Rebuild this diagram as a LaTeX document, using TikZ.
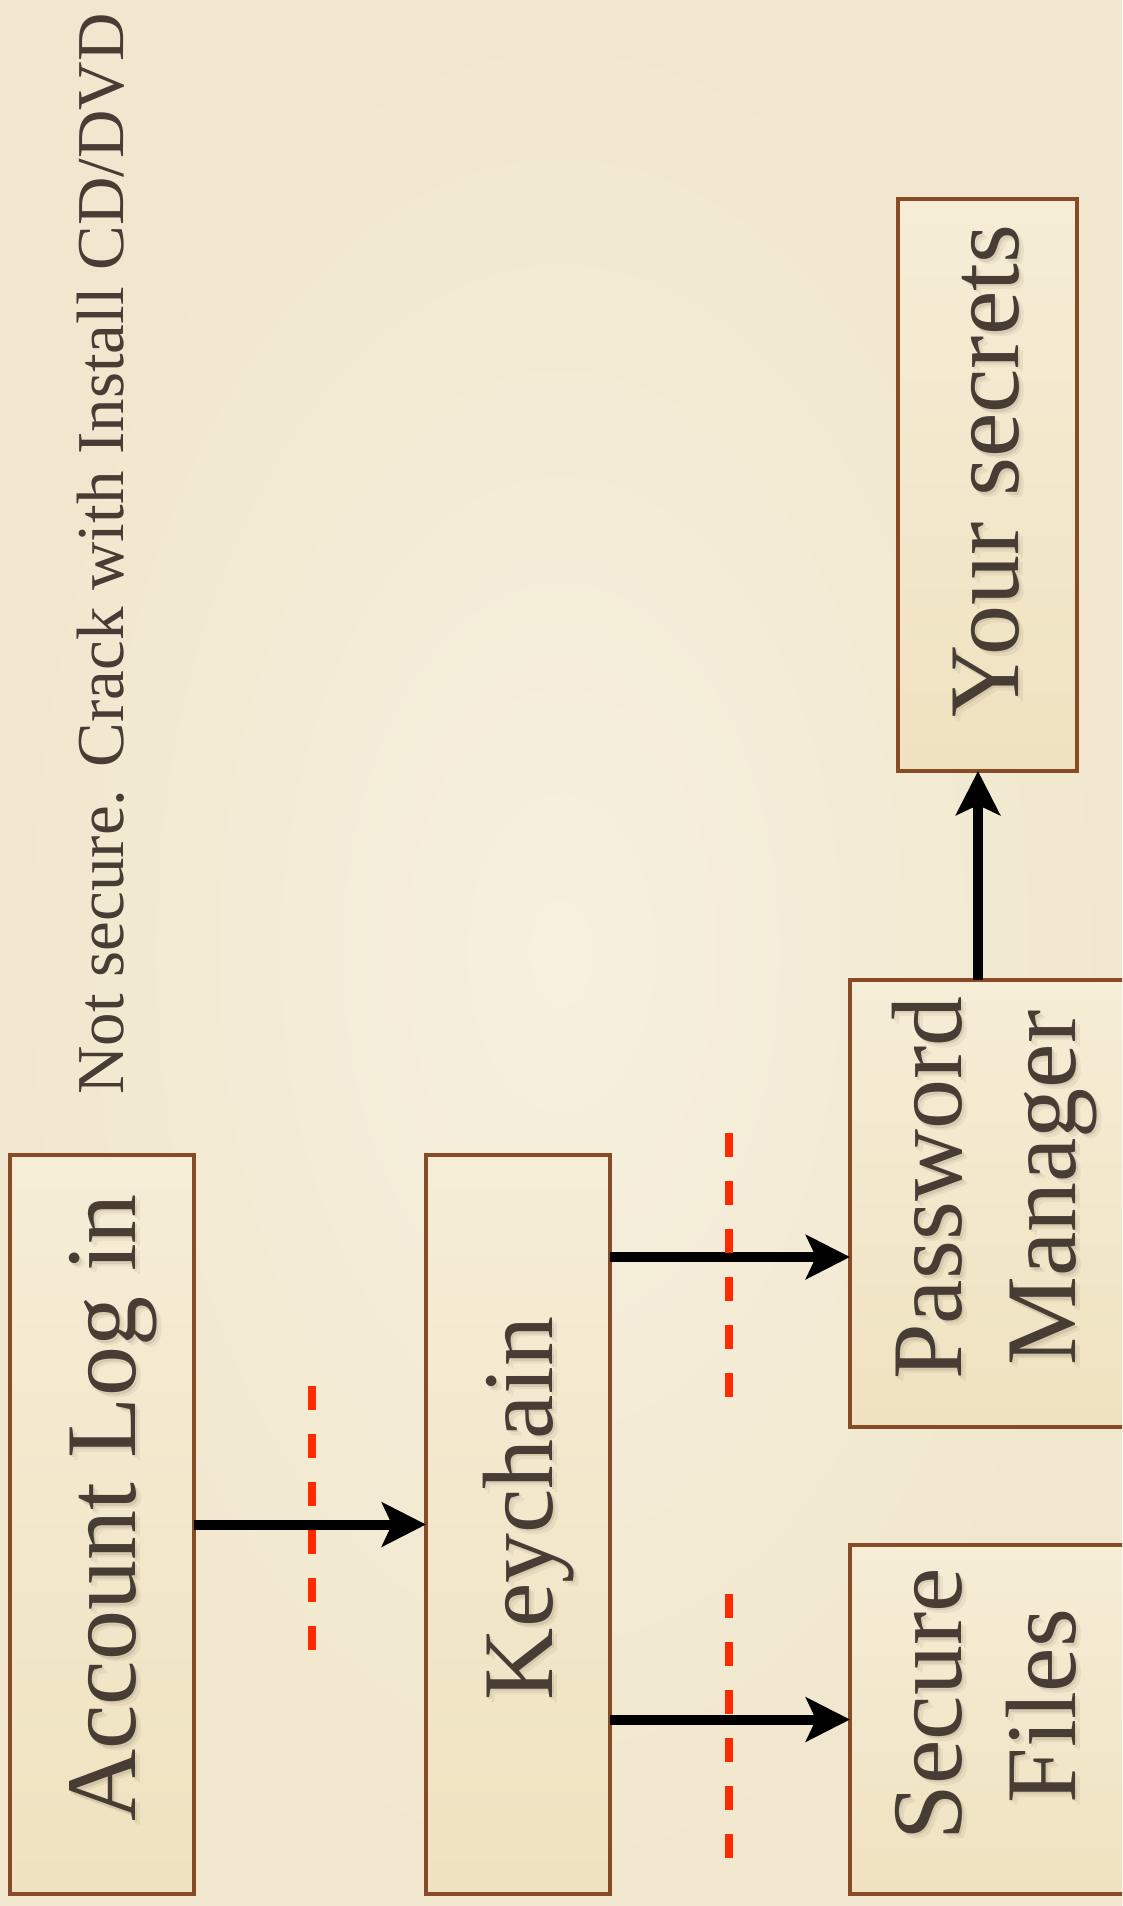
\documentclass[tikz,border=0pt]{standalone}
\usepackage{fontspec}
\setmainfont{Liberation Serif}
\usetikzlibrary{arrows.meta}
\definecolor{bgin}{RGB}{246,240,222}
\definecolor{bgout}{RGB}{241,231,206}
\definecolor{boxtop}{RGB}{245,237,214}
\definecolor{boxbot}{RGB}{239,226,192}
\definecolor{boxline}{RGB}{137,74,38}
\definecolor{ink}{RGB}{72,61,53}
\definecolor{shadowc}{RGB}{90,72,50}
\definecolor{cutred}{RGB}{255,42,0}
\tikzset{
  box/.style={rectangle, draw=boxline, line width=4.5pt, top color=boxtop, bottom color=boxbot, inner sep=0pt, outer sep=0pt},
  lbl/.style={rotate=90, anchor=base, inner sep=0pt, outer sep=0pt, text=ink, font=\fontsize{100}{114}\selectfont},
  shd/.style={lbl, text=shadowc, opacity=#1},
  note/.style={rotate=90, anchor=base, inner sep=0pt, text=ink, font=\fontsize{67}{80}\selectfont},
  arr/.style={line width=10pt, -{Stealth[length=44pt,width=44pt,inset=10pt]}},
  cut/.style={cutred, line width=8pt, dash pattern=on 24pt off 24pt},
}
\newcommand\shlabel[4]{%
  \node[shd=0.07] (#1s2) at (#2+5,#3+5) {#4};
  \node[shd=0.12] (#1s1) at (#2+2.5,#3+2.5) {#4};
  \node[lbl] (#1) at (#2,#3) {#4};}
\begin{document}
\begin{tikzpicture}[x=1pt,y=-1pt]
\clip (0,0) rectangle (1122,1906);
\shade[inner color=bgin, outer color=bgout] (0,0) rectangle (1122,1906);

% boxes
\node[box, minimum width=184pt, minimum height=739pt] (acc) at (102,1524.5) {};
\node[box, minimum width=184pt, minimum height=739pt] (key) at (518,1524.5) {};
\node[box, minimum width=284pt, minimum height=447pt] (pm) at (992,1203.5) {};
\node[box, minimum width=284pt, minimum height=349pt] (sf) at (992,1719.5) {};
\node[box, minimum width=179pt, minimum height=572pt] (ys) at (987.5,485) {};

% labels
\shlabel{accL}{135}{1508}{Account Log in}
\shlabel{keyL}{552}{1508.5}{Keychain}
\shlabel{ysL}{1018}{471}{Your secrets}
\shlabel{pmL1}{961}{1188}{Password}
\shlabel{pmL2}{1075}{1188}{Manager}
\shlabel{sfL1}{961}{1704}{Secure}
\shlabel{sfL2}{1075}{1706}{Files}

\node[note] (warn) at (123,554) {Not secure. Crack with Install CD/DVD};

% connectors
\coordinate (k1) at (0,1257);
\coordinate (k3) at (978,0);
\draw[arr] (acc.east) -- (key.west);
\draw[arr] (key.east |- k1) -- (pm.west |- k1);
\draw[arr] (key.east |- sf.west) -- (sf.west);
\draw[arr] (pm.north -| k3) -- (ys.south -| k3);

% red dashed cut lines
\draw[cut] (312,1386) -- (312,1650);
\draw[cut] (729,1133) -- (729,1397);
\draw[cut] (729,1594) -- (729,1858);
\end{tikzpicture}
\end{document}
